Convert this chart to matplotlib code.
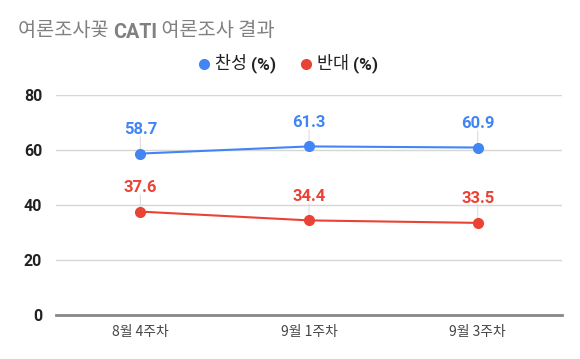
import matplotlib
matplotlib.use("Agg")
import matplotlib.pyplot as plt

plt.rcParams['font.family'] = ['Noto Sans CJK KR', 'DejaVu Sans']

categories = ["8월 4주차", "9월 1주차", "9월 3주차"]
approve = [58.7, 61.3, 60.9]
oppose = [37.6, 34.4, 33.5]
series_names = ["찬성", "반대"]
yticks = [0, 20, 40, 60, 80]

BLUE = "#4285F4"
RED = "#EA4335"

fig = plt.figure(figsize=(5.8, 3.59), dpi=100)
ax = fig.add_axes([56/580, 1-315/359, 506/580, 220/359])

x = list(range(len(categories)))
for vals, col in [(approve, BLUE), (oppose, RED)]:
    ax.plot(x, vals, color=col, lw=1.5, marker='o', ms=7, zorder=3, clip_on=False)
    for xi, v in zip(x, vals):
        ax.annotate(f"{v}", (xi, v), xytext=(0, 12), textcoords='offset points',
                    ha='center', va='bottom', color=col, fontsize=12,
                    fontweight='bold', family=['Roboto', 'DejaVu Sans'])
        ax.annotate("", (xi, v), xytext=(0, 12), textcoords='offset points',
                    arrowprops=dict(arrowstyle='-', color='#dddddd', lw=0.8,
                                    shrinkA=0, shrinkB=0), zorder=1)

ax.set_xlim(-0.5, len(categories) - 0.5)
ax.set_ylim(0, 80)
ax.set_yticks(yticks)
ax.set_yticklabels([str(t) for t in yticks], fontsize=11.5, fontweight='bold',
                   color='#222222', family=['Roboto', 'DejaVu Sans'])
ax.set_xticks(x)
ax.set_xticklabels(categories, fontsize=10, color='#444444')
ax.tick_params(axis='both', length=0)
ax.tick_params(axis='y', pad=10)
ax.tick_params(axis='x', pad=7)
for s in ax.spines.values():
    s.set_visible(False)
ax.grid(axis='y', color='#d6d6d6', lw=1)
ax.axhline(0, color='#888888', lw=2, zorder=2, clip_on=False)
ax.set_axisbelow(True)

# Title
TS = 14.2
t1 = fig.text(18/580, 1-31/359, "여론조사꽃 ", fontsize=TS, color='#808080', va='center')
t2 = ax.annotate("CATI", xy=(1, 0), xycoords=t1, fontsize=TS, color='#808080',
                 fontweight='bold', va='bottom', family=['Roboto', 'DejaVu Sans'])
t3 = ax.annotate(" 여론조사 결과", xy=(1, 0), xycoords=t2, fontsize=TS, color='#808080',
                 va='bottom')

# Legend
ly = 1 - 64/359
LS = 12.5
for name, col, mx in [(series_names[0], BLUE, 204), (series_names[1], RED, 306)]:
    fig.lines.append(matplotlib.lines.Line2D([mx/580], [ly], transform=fig.transFigure,
                                             marker='o', ms=7, color=col, ls=''))
    a = fig.text((mx + 11)/580, ly, name + " ", fontsize=LS, color='#222222', va='center')
    ax.annotate("(%)", xy=(1, 0), xycoords=a, fontsize=LS, color='#222222',
                fontweight='bold', va='bottom', family=['Roboto', 'DejaVu Sans'])

fig.savefig("out.png", dpi=100)
